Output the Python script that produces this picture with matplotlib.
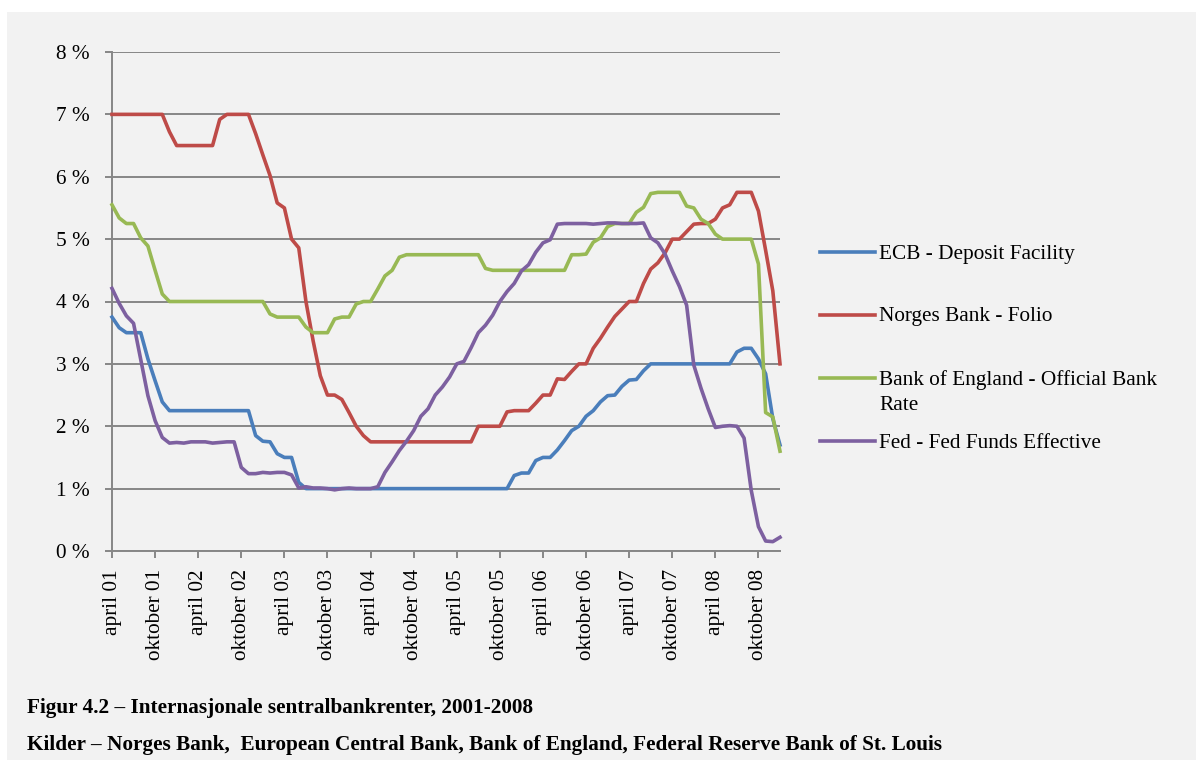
import numpy as np
import matplotlib.pyplot as plt
from matplotlib.lines import Line2D
from matplotlib.patches import Rectangle

plt.rcParams['font.family'] = ['Liberation Serif', 'DejaVu Serif']

# manedlige renter i prosent, april 2001 -> januar 2009 (94 punkter)
tick_labels = ["april 01", "oktober 01", "april 02", "oktober 02", "april 03", "oktober 03",
               "april 04", "oktober 04", "april 05", "oktober 05", "april 06", "oktober 06",
               "april 07", "oktober 07", "april 08", "oktober 08"]

series_labels = ["ECB - Deposit Facility", "Norges Bank - Folio",
                 "Bank of England - Official Bank\nRate", "Fed - Fed Funds Effective"]

ecb = [3.75, 3.58, 3.5, 3.5, 3.5, 3.08, 2.73, 2.39,
       2.25, 2.25, 2.25, 2.25, 2.25, 2.25, 2.25, 2.25, 2.25, 2.25, 2.25, 2.25,
       1.85, 1.76, 1.75, 1.56, 1.5, 1.5, 1.1,
       1.0, 1.0, 1.0, 1.0, 1.0, 1.0, 1.0, 1.0, 1.0, 1.0, 1.0, 1.0, 1.0, 1.0, 1.0,
       1.0, 1.0, 1.0, 1.0, 1.0, 1.0, 1.0, 1.0, 1.0, 1.0, 1.0, 1.0, 1.0, 1.0,
       1.21, 1.25, 1.25, 1.45, 1.5, 1.5, 1.62, 1.77, 1.93, 2.0, 2.16, 2.25, 2.39,
       2.49, 2.5, 2.64, 2.74, 2.75, 2.89,
       3.0, 3.0, 3.0, 3.0, 3.0, 3.0, 3.0, 3.0, 3.0, 3.0, 3.0, 3.0,
       3.19, 3.25, 3.25, 3.08, 2.84, 2.12, 1.7]

norges = [7.0, 7.0, 7.0, 7.0, 7.0, 7.0, 7.0, 7.0, 6.72,
          6.5, 6.5, 6.5, 6.5, 6.5, 6.5, 6.92, 7.0, 7.0, 7.0, 7.0,
          6.69, 6.35, 6.02, 5.58, 5.5, 5.0, 4.86, 4.0, 3.37, 2.81, 2.5, 2.5,
          2.43, 2.22, 2.0, 1.85,
          1.75, 1.75, 1.75, 1.75, 1.75, 1.75, 1.75, 1.75, 1.75, 1.75, 1.75, 1.75,
          1.75, 1.75, 1.75,
          2.0, 2.0, 2.0, 2.0, 2.23, 2.25, 2.25, 2.25,
          2.37, 2.5, 2.5, 2.76, 2.75, 2.88, 3.0, 3.0, 3.25, 3.41, 3.59, 3.76,
          3.88, 4.0, 4.0, 4.29, 4.52, 4.62, 4.78, 5.0, 5.0, 5.12, 5.24, 5.25,
          5.25, 5.32, 5.5, 5.55, 5.75, 5.75, 5.75, 5.45, 4.82, 4.17, 3.0]

boe = [5.55, 5.34, 5.25, 5.25, 5.02, 4.89, 4.5, 4.12,
       4.0, 4.0, 4.0, 4.0, 4.0, 4.0, 4.0, 4.0, 4.0, 4.0, 4.0, 4.0, 4.0, 4.0,
       3.8, 3.75, 3.75, 3.75, 3.75, 3.59, 3.5, 3.5, 3.5,
       3.72, 3.75, 3.75, 3.96, 4.0, 4.0, 4.2, 4.41, 4.5, 4.71,
       4.75, 4.75, 4.75, 4.75, 4.75, 4.75, 4.75, 4.75, 4.75, 4.75, 4.75,
       4.53,
       4.5, 4.5, 4.5, 4.5, 4.5, 4.5, 4.5, 4.5, 4.5, 4.5, 4.5,
       4.75, 4.75, 4.76, 4.95, 5.02, 5.2, 5.25, 5.25, 5.25, 5.43, 5.51, 5.73,
       5.75, 5.75, 5.75, 5.75,
       5.53, 5.5, 5.32, 5.25, 5.08,
       5.0, 5.0, 5.0, 5.0, 5.0,
       4.6, 2.22, 2.15, 1.6]

fed = [4.21, 3.97, 3.77, 3.65, 3.07, 2.49, 2.09, 1.82, 1.73, 1.74,
       1.73, 1.75, 1.75, 1.75, 1.73, 1.74, 1.75, 1.75, 1.34, 1.24,
       1.24, 1.26, 1.25, 1.26, 1.26, 1.22, 1.01, 1.03, 1.01, 1.01,
       1.00, 0.98, 1.00, 1.01, 1.00, 1.00, 1.00, 1.03, 1.26, 1.43,
       1.61, 1.76, 1.93, 2.16, 2.28, 2.50, 2.63, 2.79, 3.00, 3.04,
       3.26, 3.50, 3.62, 3.78, 4.00, 4.16, 4.29, 4.49, 4.59, 4.79,
       4.94, 4.99, 5.24, 5.25, 5.25, 5.25, 5.25, 5.24, 5.25, 5.26,
       5.26, 5.25, 5.25, 5.25, 5.26, 5.02, 4.94, 4.76, 4.49, 4.24,
       3.94, 2.98, 2.61, 2.28, 1.98, 2.00, 2.01, 2.00, 1.81, 0.97,
       0.39, 0.16, 0.15, 0.22]

colors = ['#4A7EBB', '#BE4B48', '#98B954', '#7D60A0']
grey = '#878787'
fs = 15.3

W, H = 1203, 760
fig = plt.figure(figsize=(W / 100, H / 100), dpi=100)
fig.patches.append(Rectangle((7 / W, 0), (1196 - 7) / W, (H - 12) / H,
                             transform=fig.transFigure, facecolor='#F2F2F2',
                             edgecolor='none', zorder=-10))

ax = fig.add_axes([112 / W, (H - 551) / H, (780 - 112) / W, (551 - 52) / H])
ax.set_facecolor('none')

x = np.arange(len(ecb))
for data, c in zip([ecb, norges, boe, fed], colors):
    ax.plot(x, data, color=c, lw=2.6, solid_joinstyle='round', clip_on=False, zorder=3)

ax.set_xlim(0, len(ecb) - 1)
ax.set_ylim(0, 8)
ax.set_yticks(range(9))
ax.set_yticklabels([f"{v} %" for v in range(9)])
ax.set_xticks(range(0, 6 * len(tick_labels), 6))
ax.set_xticklabels(tick_labels, rotation=90)

ax.grid(axis='y', color=grey, lw=1.4)
ax.set_axisbelow(True)
for s in ['top', 'right']:
    ax.spines[s].set_visible(False)
for s in ['left', 'bottom']:
    ax.spines[s].set_color(grey)
    ax.spines[s].set_linewidth(1.4)
ax.tick_params(axis='both', color=grey, width=1.4, length=5, labelsize=fs, labelcolor='black')
ax.tick_params(axis='y', pad=11)
ax.tick_params(axis='x', pad=8)

# legende til hoyre
leg_y = [252, 315, 378, 441]
for lab, c, y in zip(series_labels, colors, leg_y):
    fig.add_artist(Line2D([820 / W, 875 / W], [1 - y / H] * 2, color=c, lw=2.6,
                          transform=fig.transFigure))
    for k, line in enumerate(lab.split('\n')):
        fig.text(879 / W, 1 - (y + 2 + 26 * k) / H, line, va='center', ha='left', fontsize=fs)

fig.text(27 / W, 1 - 708 / H, "Figur 4.2 – Internasjonale sentralbankrenter, 2001-2008",
         fontsize=fs, fontweight='bold', va='center')
fig.text(27 / W, 1 - 745 / H,
         "Kilder – Norges Bank,  European Central Bank, Bank of England, Federal Reserve Bank of St. Louis",
         fontsize=fs, fontweight='bold', va='center')

plt.savefig("out.png", dpi=100)
